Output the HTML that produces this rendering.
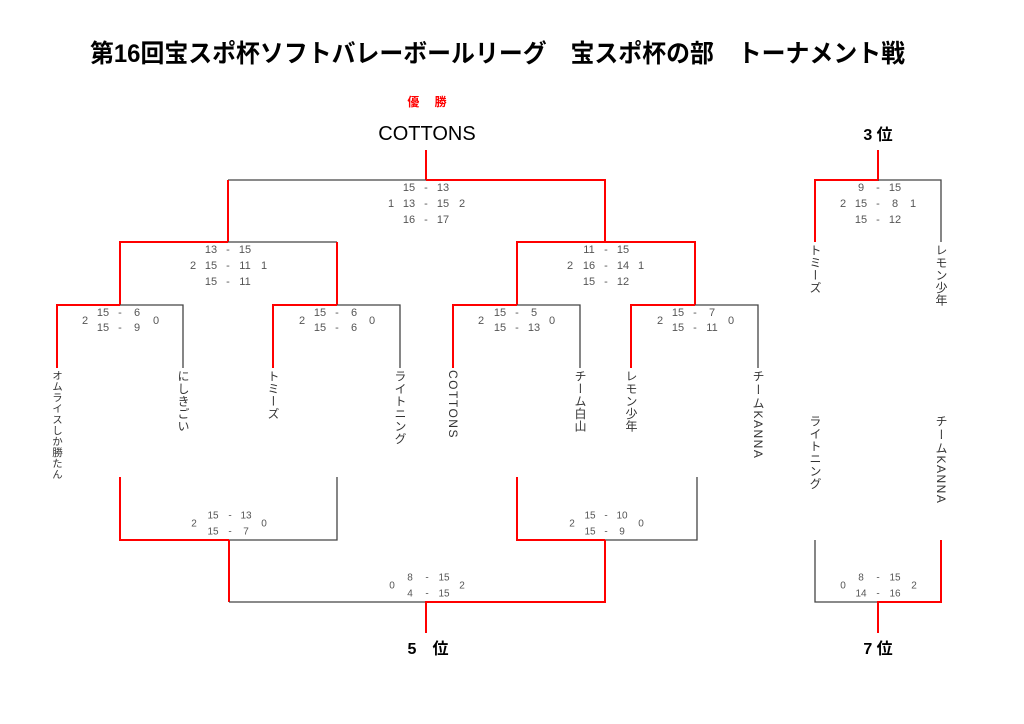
<!DOCTYPE html>
<html><head><meta charset="utf-8">
<style>
html,body{margin:0;padding:0;background:#fff;}
svg{display:block;}
text{font-family:"Liberation Sans","Noto Sans CJK JP",sans-serif;}
.s{font-size:11px;fill:#555;text-anchor:middle;dominant-baseline:middle;}
.s2{font-size:10px;fill:#555;text-anchor:middle;dominant-baseline:middle;}
.n{font-size:12px;fill:#333;writing-mode:tb;glyph-orientation-vertical:0;letter-spacing:0.5px;}
.r{stroke:#f00;stroke-width:2;fill:none;}
.k{stroke:#444;stroke-width:1.3;fill:none;}
</style></head><body>
<svg width="1024" height="724" viewBox="0 0 1024 724" xmlns="http://www.w3.org/2000/svg">
<text x="90" y="62" font-size="25" font-weight="bold" fill="#000" textLength="815" lengthAdjust="spacingAndGlyphs">第16回宝スポ杯ソフトバレーボールリーグ　宝スポ杯の部　トーナメント戦</text>
<text x="427" y="106" font-size="12" font-weight="bold" fill="#f00" text-anchor="middle">優　 勝</text>
<text x="427" y="140" font-size="20" fill="#000" text-anchor="middle">COTTONS</text>
<text x="878" y="140" font-size="16" font-weight="bold" fill="#000" text-anchor="middle">3  位</text>
<text x="428" y="654" font-size="16" font-weight="bold" fill="#000" text-anchor="middle">5　位</text>
<text x="878" y="654" font-size="16" font-weight="bold" fill="#000" text-anchor="middle">7  位</text>

<!-- final -->
<path class="r" d="M426 150V180"/>
<path class="k" d="M228 180H426"/>
<path class="r" d="M426 180H605V242"/>
<path class="r" d="M228 180V242"/>
<!-- semi left -->
<path class="r" d="M120 305V242H228"/>
<path class="k" d="M228 242H337"/>
<path class="r" d="M337 242V305"/>
<!-- semi right -->
<path class="r" d="M517 305V242H695V305"/>
<!-- leaves -->
<path class="r" d="M57 368V305H120"/><path class="k" d="M120 305H183V368"/>
<path class="r" d="M273 368V305H337"/><path class="k" d="M337 305H400V368"/>
<path class="r" d="M453 368V305H517"/><path class="k" d="M517 305H580V368"/>
<path class="r" d="M631 368V305H695"/><path class="k" d="M695 305H758V368"/>
<!-- 3rd -->
<path class="r" d="M878 150V180H815V242"/>
<path class="k" d="M878 180H941V242"/>
<!-- 5th brackets -->
<path class="r" d="M120 477V540H229"/><path class="k" d="M229 540H337V477"/>
<path class="r" d="M517 477V540H605"/><path class="k" d="M605 540H697V477"/>
<path class="r" d="M229 540V602"/><path class="k" d="M229 602H426"/>
<path class="r" d="M426 633V602H605V540"/>
<!-- 7th -->
<path class="k" d="M815 540V602H878"/>
<path class="r" d="M878 633V602H941V540"/>

<!-- scores final -->
<g class="s">
<text x="409" y="188">15</text><text x="426" y="188">-</text><text x="443" y="188">13</text>
<text x="391" y="204">1</text><text x="409" y="204">13</text><text x="426" y="204">-</text><text x="443" y="204">15</text><text x="462" y="204">2</text>
<text x="409" y="220">16</text><text x="426" y="220">-</text><text x="443" y="220">17</text>

<text x="211" y="250">13</text><text x="228" y="250">-</text><text x="245" y="250">15</text>
<text x="193" y="266">2</text><text x="211" y="266">15</text><text x="228" y="266">-</text><text x="245" y="266">11</text><text x="264" y="266">1</text>
<text x="211" y="282">15</text><text x="228" y="282">-</text><text x="245" y="282">11</text>

<text x="589" y="250">11</text><text x="606" y="250">-</text><text x="623" y="250">15</text>
<text x="570" y="266">2</text><text x="589" y="266">16</text><text x="606" y="266">-</text><text x="623" y="266">14</text><text x="641" y="266">1</text>
<text x="589" y="282">15</text><text x="606" y="282">-</text><text x="623" y="282">12</text>

<text x="861" y="188">9</text><text x="878" y="188">-</text><text x="895" y="188">15</text>
<text x="843" y="204">2</text><text x="861" y="204">15</text><text x="878" y="204">-</text><text x="895" y="204">8</text><text x="913" y="204">1</text>
<text x="861" y="220">15</text><text x="878" y="220">-</text><text x="895" y="220">12</text>

<text x="103" y="313">15</text><text x="120" y="313">-</text><text x="137" y="313">6</text>
<text x="103" y="328">15</text><text x="120" y="328">-</text><text x="137" y="328">9</text>
<text x="85" y="321">2</text><text x="156" y="321">0</text>

<text x="320" y="313">15</text><text x="337" y="313">-</text><text x="354" y="313">6</text>
<text x="320" y="328">15</text><text x="337" y="328">-</text><text x="354" y="328">6</text>
<text x="302" y="321">2</text><text x="372" y="321">0</text>

<text x="500" y="313">15</text><text x="517" y="313">-</text><text x="534" y="313">5</text>
<text x="500" y="328">15</text><text x="517" y="328">-</text><text x="534" y="328">13</text>
<text x="481" y="321">2</text><text x="552" y="321">0</text>

<text x="678" y="313">15</text><text x="695" y="313">-</text><text x="712" y="313">7</text>
<text x="678" y="328">15</text><text x="695" y="328">-</text><text x="712" y="328">11</text>
<text x="660" y="321">2</text><text x="731" y="321">0</text>
</g>
<g class="s2">
<text x="213" y="516">15</text><text x="230" y="516">-</text><text x="246" y="516">13</text>
<text x="213" y="532">15</text><text x="230" y="532">-</text><text x="246" y="532">7</text>
<text x="194" y="524">2</text><text x="264" y="524">0</text>

<text x="590" y="516">15</text><text x="606" y="516">-</text><text x="622" y="516">10</text>
<text x="590" y="532">15</text><text x="606" y="532">-</text><text x="622" y="532">9</text>
<text x="572" y="524">2</text><text x="641" y="524">0</text>

<text x="410" y="578">8</text><text x="427" y="578">-</text><text x="444" y="578">15</text>
<text x="410" y="594">4</text><text x="427" y="594">-</text><text x="444" y="594">15</text>
<text x="392" y="586">0</text><text x="462" y="586">2</text>

<text x="861" y="578">8</text><text x="878" y="578">-</text><text x="895" y="578">15</text>
<text x="861" y="594">14</text><text x="878" y="594">-</text><text x="895" y="594">16</text>
<text x="843" y="586">0</text><text x="914" y="586">2</text>
</g>

<!-- names -->
<text class="n" x="57" y="370" style="font-size:10.5px">オムライスしか勝たん</text>
<text class="n" x="183" y="370">にしきごい</text>
<text class="n" x="273" y="370">トミーズ</text>
<text class="n" x="400" y="370">ライトニング</text>
<text class="n" x="453" y="370" style="letter-spacing:1.5px">COTTONS</text>
<text class="n" x="580" y="370">チーム白山</text>
<text class="n" x="631" y="370">レモン少年</text>
<text class="n" x="758" y="370" style="letter-spacing:1.5px">チームKANNA</text>
<text class="n" x="815" y="244">トミーズ</text>
<text class="n" x="941" y="244">レモン少年</text>
<text class="n" x="815" y="415">ライトニング</text>
<text class="n" x="941" y="415" style="letter-spacing:1.5px">チームKANNA</text>
</svg>
</body></html>
